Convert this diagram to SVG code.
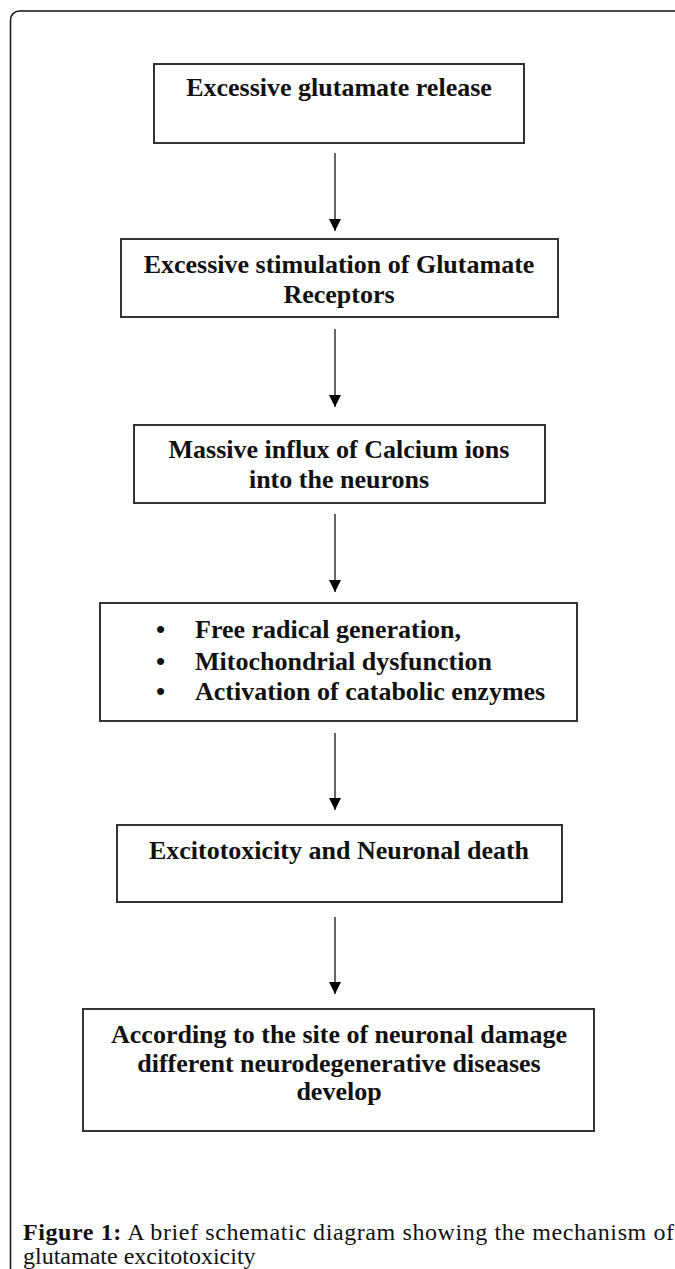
<svg xmlns="http://www.w3.org/2000/svg" width="675" height="1269" viewBox="0 0 675 1269">
<defs>
<style>
.frame{fill:none;stroke:#111;stroke-width:1.5}
.box{fill:#fff;stroke:#333;stroke-width:2}
.t{font-family:"Liberation Serif","Times New Roman",serif;font-weight:bold;font-size:26px;fill:#111;text-anchor:middle}
.tl{font-family:"Liberation Serif","Times New Roman",serif;font-weight:bold;font-size:26px;fill:#111}
.conn{stroke:#666;stroke-width:2;fill:none;marker-end:url(#ah)}
.cap{font-family:"Liberation Serif","Times New Roman",serif;font-size:24px;fill:#111}
</style>
<marker id="ah" viewBox="0 0 12 12" refX="12" refY="6" markerWidth="12" markerHeight="12" markerUnits="userSpaceOnUse" orient="auto">
<path d="M0,0 L12,6 L0,12 z" fill="#000"/>
</marker>
</defs>
<rect class="frame" x="10.5" y="11" width="700" height="1300" rx="9"/>
<g id="connectors">
<line class="conn" x1="335" y1="153" x2="335" y2="231"/>
<line class="conn" x1="335" y1="329" x2="335" y2="407"/>
<line class="conn" x1="335" y1="514" x2="335" y2="592"/>
<line class="conn" x1="335" y1="733" x2="335" y2="810"/>
<line class="conn" x1="335" y1="917" x2="335" y2="994"/>
</g>
<g id="n1">
<rect class="box" x="154" y="64" width="370" height="79"/>
<text class="t" x="339" y="96">Excessive glutamate release</text>
</g>
<g id="n2">
<rect class="box" x="121" y="239" width="437" height="78"/>
<text class="t" x="339" y="273">Excessive stimulation of Glutamate</text>
<text class="t" x="339" y="303">Receptors</text>
</g>
<g id="n3">
<rect class="box" x="134" y="425" width="411" height="78"/>
<text class="t" x="339" y="458">Massive influx of Calcium ions</text>
<text class="t" x="339" y="488">into the neurons</text>
</g>
<g id="n4">
<rect class="box" x="100" y="603" width="477" height="118"/>
<text class="tl" x="156" y="638">•</text>
<text class="tl" x="195" y="638">Free radical generation,</text>
<text class="tl" x="156" y="670">•</text>
<text class="tl" x="195" y="670">Mitochondrial dysfunction</text>
<text class="tl" x="156" y="700">•</text>
<text class="tl" x="195" y="700">Activation of catabolic enzymes</text>
</g>
<g id="n5">
<rect class="box" x="117" y="825" width="445" height="77"/>
<text class="t" x="339" y="859">Excitotoxicity and Neuronal death</text>
</g>
<g id="n6">
<rect class="box" x="83" y="1009" width="511" height="122"/>
<text class="t" x="339" y="1043">According to the site of neuronal damage</text>
<text class="t" x="339" y="1072">different neurodegenerative diseases</text>
<text class="t" x="339" y="1100">develop</text>
</g>
<g id="caption">
<text class="cap" x="23" y="1240" textLength="651" lengthAdjust="spacing"><tspan font-weight="bold">Figure 1:</tspan> A brief schematic diagram showing the mechanism of</text>
<text class="cap" x="23" y="1264">glutamate excitotoxicity</text>
</g>
</svg>
